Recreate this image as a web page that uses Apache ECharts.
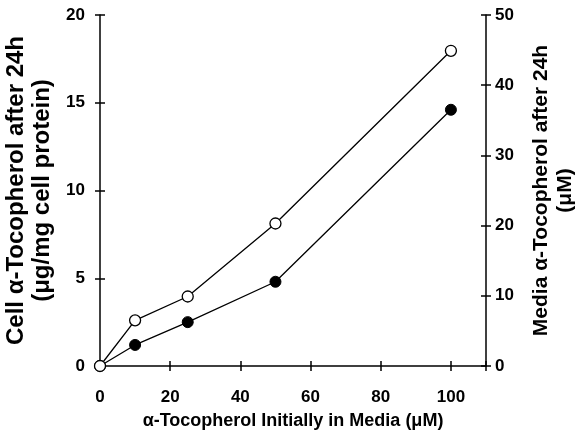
<!DOCTYPE html>
<html><head><meta charset="utf-8">
<script src="https://cdn.jsdelivr.net/npm/echarts@6/dist/echarts.min.js"></script>
<style>html,body{margin:0;padding:0;background:#fff}#c{width:584px;height:436px}</style>
</head><body><div id="c"></div>
<script>
const xValues = [0, 10, 25, 50, 100];
const cellValues = [0, 1.2, 2.5, 4.8, 14.6];       // filled circles, left axis
const mediaValues = [0, 6.5, 9.9, 20.3, 44.9];     // open circles, right axis
const xTicks = [0, 20, 40, 60, 80, 100];
const leftTicks = [0, 5, 10, 15, 20];
const rightTicks = [0, 10, 20, 30, 40, 50];

const FONT = '"Liberation Sans", Arial, sans-serif';
const lbl = {color:'#000', fontFamily:FONT, fontWeight:'bold', fontSize:17};
const axLine = {show:true, onZero:false, lineStyle:{color:'#000', width:1.5}};
const noLine = {show:false, onZero:false};
const tickOut = {show:true, length:5, inside:false, lineStyle:{color:'#000', width:1.5}};
const tickIn = {show:true, length:5, inside:true, lineStyle:{color:'#000', width:1.5}};

function pairs(xs, ys){ return xs.map((x,i)=>[x, ys[i]]); }

const chart = echarts.init(document.getElementById('c'), null, {renderer:'canvas'});
chart.setOption({
  animation:false,
  backgroundColor:'#fff',
  grid:{left:100, right:98, top:15, bottom:70, containLabel:false, outerBoundsMode:'none'},
  xAxis:[
    {type:'value', position:'bottom', min:0, max:110, interval:20,
     axisLine:axLine, axisTick:tickOut, splitLine:{show:false},
     axisLabel:Object.assign({margin:23, formatter:v=> xTicks.includes(v)? String(v):''}, lbl),
     name:'α-Tocopherol Initially in Media (μM)', nameLocation:'middle', nameGap:46,
     nameTextStyle:{color:'#000', fontFamily:FONT, fontWeight:'bold', fontSize:18}},
    {type:'value', position:'bottom', offset:0, min:0, max:110, interval:20,
     axisLine:noLine, axisTick:tickIn, axisLabel:{show:false}, splitLine:{show:false}}
  ],
  yAxis:[
    {type:'value', position:'left', min:0, max:20, interval:5,
     axisLine:axLine, axisTick:tickOut, splitLine:{show:false},
     axisLabel:Object.assign({margin:15, formatter:v=> leftTicks.includes(v)? String(v):''}, lbl),
     name:'Cell α-Tocopherol after 24h\n(μg/mg cell protein)', nameLocation:'middle', nameGap:34, nameRotate:90,
     nameTextStyle:{color:'#000', fontFamily:FONT, fontWeight:'bold', fontSize:24, lineHeight:26}},
    {type:'value', position:'right', min:0, max:50, interval:10,
     axisLine:axLine, axisTick:tickOut, splitLine:{show:false},
     axisLabel:Object.assign({margin:9, formatter:v=> rightTicks.includes(v)? String(v):''}, lbl),
     name:'Media α-Tocopherol after 24h\n(μM)', nameLocation:'middle', nameGap:43, nameRotate:90,
     nameTextStyle:{color:'#000', fontFamily:FONT, fontWeight:'bold', fontSize:21, lineHeight:24}},
    {type:'value', position:'left', offset:0, min:0, max:20, interval:5,
     axisLine:noLine, axisTick:tickIn, axisLabel:{show:false}, splitLine:{show:false}},
    {type:'value', position:'right', offset:0, min:0, max:50, interval:10,
     axisLine:noLine, axisTick:tickIn, axisLabel:{show:false}, splitLine:{show:false}}
  ],
  series:[
    {type:'line', xAxisIndex:0, yAxisIndex:0, data:pairs(xValues, cellValues),
     symbol:'circle', symbolSize:11, showAllSymbol:true,
     lineStyle:{color:'#000', width:1.3}, itemStyle:{color:'#000', borderColor:'#000', borderWidth:1}, z:2},
    {type:'line', xAxisIndex:0, yAxisIndex:1, data:pairs(xValues, mediaValues),
     symbol:'circle', symbolSize:11, showAllSymbol:true,
     lineStyle:{color:'#000', width:1.3}, itemStyle:{color:'#fff', borderColor:'#000', borderWidth:1.3}, z:3}
  ]
});
</script></body></html>
